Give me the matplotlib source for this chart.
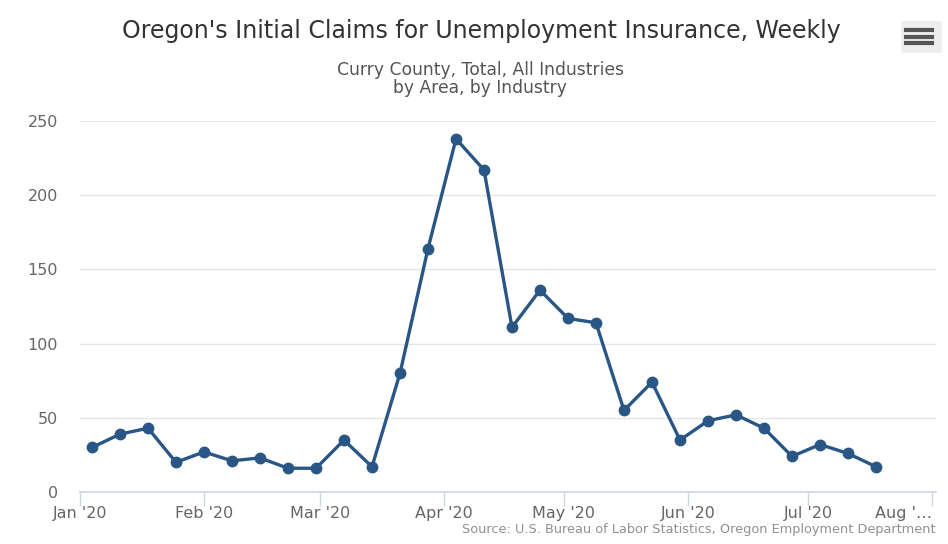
import matplotlib
matplotlib.use("Agg")
import matplotlib.pyplot as plt
import matplotlib.transforms as mtransforms
import numpy as np
from matplotlib.patches import FancyBboxPatch
from matplotlib.lines import Line2D

weeks = ["2020-01-04", "2020-01-11", "2020-01-18", "2020-01-25", "2020-02-01",
         "2020-02-08", "2020-02-15", "2020-02-22", "2020-02-29", "2020-03-07",
         "2020-03-14", "2020-03-21", "2020-03-28", "2020-04-04", "2020-04-11",
         "2020-04-18", "2020-04-25", "2020-05-02", "2020-05-09", "2020-05-16",
         "2020-05-23", "2020-05-30", "2020-06-06", "2020-06-13", "2020-06-20",
         "2020-06-27", "2020-07-04", "2020-07-11", "2020-07-18"]
claims = [30, 39, 43, 20, 27, 21, 23, 16, 16, 35,
          17, 80, 164, 238, 217, 111, 136, 117, 114, 55,
          74, 35, 48, 52, 43, 24, 32, 26, 17]
month_ticks = ["2020-01-01", "2020-02-01", "2020-03-01", "2020-04-01",
               "2020-05-01", "2020-06-01", "2020-07-01", "2020-08-01"]
month_labels = ["Jan '20", "Feb '20", "Mar '20", "Apr '20", "May '20",
                "Jun '20", "Jul '20", "Aug '\u2026"]
y_ticks = [0, 50, 100, 150, 200, 250]

title = "Oregon's Initial Claims for Unemployment Insurance, Weekly"
subtitle1 = "Curry County, Total, All Industries"
subtitle2 = "by Area, by Industry"
source = "Source: U.S. Bureau of Labor Statistics, Oregon Employment Department"

plt.rcParams['font.family'] = ['DejaVu Sans']

W, H = 948, 544
fig = plt.figure(figsize=(W / 100, H / 100), dpi=100)
fig.patch.set_facecolor("white")

ax = fig.add_axes([80 / W, 1 - 492 / H, (936 - 80) / W, (492 - 121) / H])

x = np.array(weeks, dtype="datetime64[D]")
ax.plot(x, claims, color="#2a5685", lw=2.4, marker="o", ms=7.5,
        markerfacecolor="#2a5685", markeredgecolor="#2a5685", zorder=3,
        clip_on=False)

ax.set_ylim(0, 250)
ax.set_xlim(np.datetime64("2020-01-01"), np.datetime64("2020-08-02"))
ax.set_yticks(y_ticks)
ax.set_yticklabels([str(v) for v in y_ticks], color="#666666", fontsize=11.5)
ax.set_xticks(np.array(month_ticks, dtype="datetime64[D]"))
ax.set_xticklabels(month_labels, color="#666666", fontsize=11.5)

last = ax.get_xticklabels()[-1]
last.set_horizontalalignment("right")
last.set_transform(last.get_transform() +
                   mtransforms.ScaledTranslation(6 / 100, 0, fig.dpi_scale_trans))

ax.grid(axis="y", color="#e6e6e6", lw=1)
ax.set_axisbelow(True)
for s in ["top", "right", "left"]:
    ax.spines[s].set_visible(False)
ax.spines["bottom"].set_color("#ccd6eb")
ax.spines["bottom"].set_linewidth(1.2)
ax.tick_params(axis="y", length=0, pad=16)
ax.tick_params(axis="x", length=10, color="#ccd6eb", width=1, pad=0)

fig.text(481 / W, 1 - 31 / H, title, ha="center", va="center",
         fontsize=17, color="#333333")
fig.text(480 / W, 1 - 70 / H, subtitle1, ha="center", va="center",
         fontsize=12.3, color="#555555")
fig.text(480 / W, 1 - 88 / H, subtitle2, ha="center", va="center",
         fontsize=12.3, color="#555555")
fig.text(936 / W, 1 - 530 / H, source, ha="right", va="center",
         fontsize=9.3, color="#909090")

# menu button
box = FancyBboxPatch((901 / W, 1 - 53 / H), 41 / W, 32 / H,
                     boxstyle="round,pad=0,rounding_size=0.004",
                     transform=fig.transFigure, facecolor="#eeeeee",
                     edgecolor="none")
fig.patches.append(box)
for yy in (30, 36.5, 43):
    fig.lines.append(Line2D([906 / W, 932 / W], [1 - yy / H, 1 - yy / H],
                            transform=fig.transFigure, color="#555555", lw=3))

fig.savefig("out.png", dpi=100)
